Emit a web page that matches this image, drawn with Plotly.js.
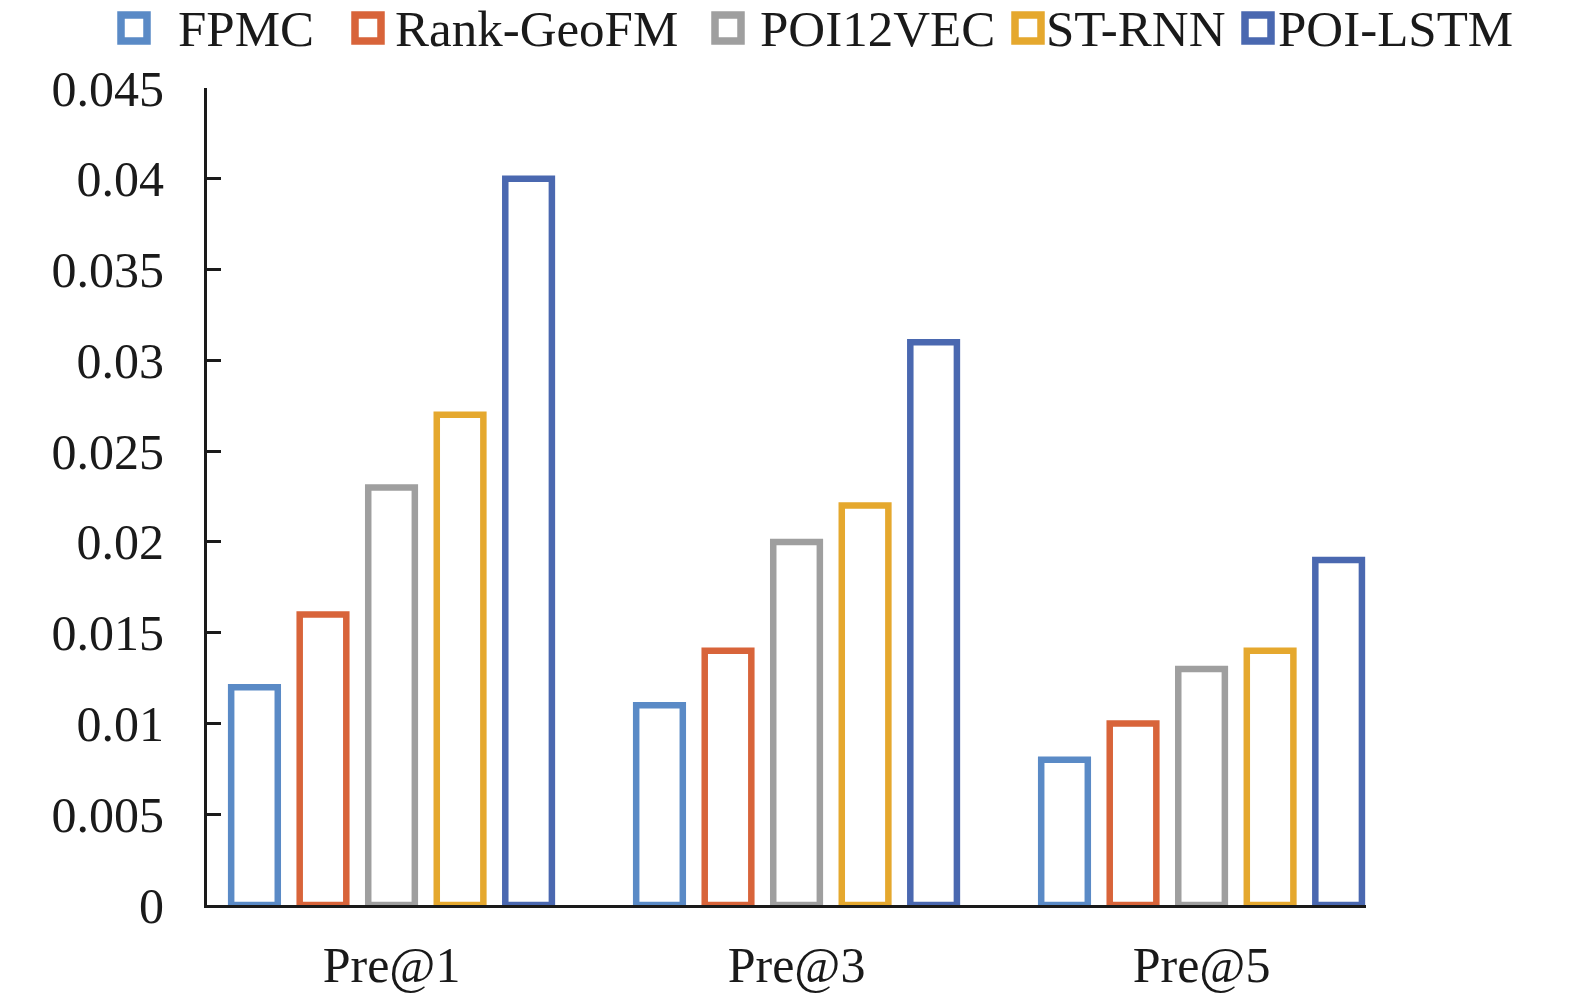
<!DOCTYPE html>
<html>
<head>
<meta charset="utf-8">
<script src="https://cdn.plot.ly/plotly-3.0.1.min.js"></script>
<style>
  html, body { margin: 0; padding: 0; background: #fff; }
  #chart { width: 1575px; height: 1004px; }
</style>
</head>
<body>
<div id="chart"></div>
<script>
// Data
const categories = ["Pre@1", "Pre@3", "Pre@5"];
const seriesNames = ["FPMC", "Rank-GeoFM", "POI12VEC", "ST-RNN", "POI-LSTM"];
const fpmc = [0.012, 0.011, 0.008];
const rankGeoFM = [0.016, 0.014, 0.010];
const poi12vec = [0.023, 0.020, 0.013];
const stRnn = [0.027, 0.022, 0.014];
const poiLstm = [0.040, 0.031, 0.019];
const yTickVals = [0, 0.005, 0.01, 0.015, 0.02, 0.025, 0.03, 0.035, 0.04, 0.045];
const yTickText = ["0", "0.005", "0.01", "0.015", "0.02", "0.025", "0.03", "0.035", "0.04", "0.045"];

const seriesValues = [fpmc, rankGeoFM, poi12vec, stRnn, poiLstm];
const colors = ["#5a8ac6", "#d8643a", "#9f9f9f", "#e5a82e", "#4a68b0"];

// plot area in pixels (used for the hand placed legend)
const plotL = 207, plotR = 1366, plotT = 88, plotB = 905;
function px2x(px) { return (px - plotL) / (plotR - plotL); }
function px2y(py) { return (plotB - py) / (plotB - plotT); }

const font = "Liberation Serif, Times New Roman, serif";

let traces = seriesNames.map(function (name, i) {
    return {
        type: "bar",
        name: name,
        x: [0, 1, 2],
        y: seriesValues[i],
        marker: { color: "rgba(255,255,255,0)", line: { color: colors[i], width: 6.5 } },
        showlegend: false,
        hoverinfo: "x+y+name"
    };
});

// Legend: square key + label
const legendKeys = [134, 368, 728, 1028, 1258];
const legendText = [176, 393, 758, 1044, 1276];
const legendY = 28;
let shapes = [];
let annotations = [];
seriesNames.forEach(function (name, i) {
    shapes.push({
        type: "rect", xref: "paper", yref: "paper",
        x0: px2x(legendKeys[i] - 13), x1: px2x(legendKeys[i] + 13),
        y0: px2y(legendY + 13), y1: px2y(legendY - 13),
        line: { color: colors[i], width: 7.5 },
        fillcolor: "rgba(0,0,0,0)"
    });
    annotations.push({
        xref: "paper", yref: "paper",
        x: px2x(legendText[i]), y: px2y(legendY + 1),
        xanchor: "left", yanchor: "middle",
        text: name, showarrow: false,
        font: { family: font, size: 51, color: "#1a1a1a" }
    });
});

const layout = {
    width: 1575,
    height: 1004,
    margin: { l: plotL, r: 1575 - plotR, t: plotT, b: 1004 - plotB, pad: 0 },
    paper_bgcolor: "#fff",
    plot_bgcolor: "#fff",
    font: { family: font, size: 50, color: "#1a1a1a" },
    barmode: "group",
    bargap: 0.154,
    bargroupgap: 0.32,
    showlegend: false,
    xaxis: {
        range: [-0.4556, 2.406],
        tickvals: [0, 1, 2],
        ticktext: categories,
        showgrid: false,
        zeroline: false,
        showline: true,
        linecolor: "#1a1a1a",
        linewidth: 3,
        ticks: "",
        ticklabelstandoff: 14,
        tickfont: { family: font, size: 50, color: "#1a1a1a" },
        fixedrange: true
    },
    yaxis: {
        range: [0, 0.045],
        tickvals: yTickVals,
        ticktext: yTickText,
        showgrid: false,
        zeroline: false,
        showline: true,
        linecolor: "#1a1a1a",
        linewidth: 3,
        ticks: "inside",
        ticklen: 14,
        tickwidth: 3,
        tickcolor: "#1a1a1a",
        ticklabelstandoff: 30,
        tickfont: { family: font, size: 50, color: "#1a1a1a" },
        fixedrange: true
    },
    shapes: shapes,
    annotations: annotations
};

Plotly.newPlot("chart", traces, layout, { displayModeBar: false, staticPlot: true });
</script>
</body>
</html>
